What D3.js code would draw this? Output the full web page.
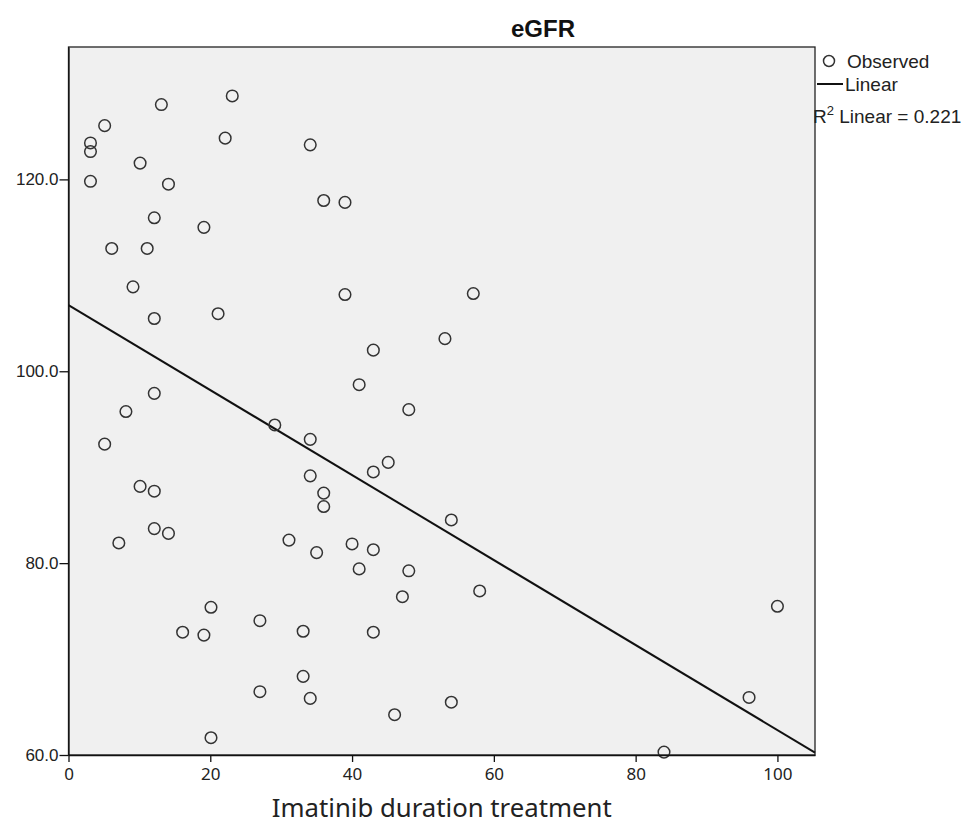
<!DOCTYPE html>
<html><head><meta charset="utf-8">
<script src="https://cdn.jsdelivr.net/npm/d3@7"></script>
<style>body{margin:0;background:#fff;}</style>
</head><body>
<script>
const durationX = [3.1,3.1,3.1,5.1,13.1,23.1,22.1,34.1,10.1,14.1,36.0,39.0,12.1,19.1,6.1,11.1,9.1,39.0,12.1,21.1,43.0,
  41.0,48.0,12.1,8.1,5.1,29.1,34.1,34.1,45.1,43.0,36.0,36.0,10.1,12.1,12.1,14.1,7.1,31.1,35.0,40.0,43.0,41.0,48.0,47.1,
  20.1,27.0,16.1,19.1,33.1,43.0,33.1,27.0,34.1,46.0,20.1,
  57.1,53.1,54.0,58.0,54.0,84.0,96.0,100.0];
const egfrY = [123.8,122.9,119.8,125.6,127.8,128.7,124.3,123.6,121.7,119.5,117.8,117.6,116.0,115.0,112.8,112.8,108.8,108.0,105.5,106.0,102.2,
  98.6,96.0,97.7,95.8,92.4,94.4,92.9,89.1,90.5,89.5,87.3,85.9,88.0,87.5,83.6,83.1,82.1,82.4,81.1,82.0,81.4,79.4,79.2,76.5,
  75.4,74.0,72.8,72.5,72.9,72.8,68.2,66.6,65.9,64.2,61.8,
  108.1,103.4,84.5,77.1,65.5,60.3,66.0,75.5];
const xTicks = [0,20,40,60,80,100];
const yTicks = [60,80,100,120];
const fitIntercept = 106.9;
const fitSlope = -0.443;
const xDomain = [0,105.3];
const yDomain = [60,133.8];
const titleText = "eGFR";
const xTitle = "Imatinib duration treatment";
const legendLabels = ["Observed","Linear"];
const r2Text = "Linear = 0.221";

const W=961,H=824;
const svg=d3.select("body").append("svg").attr("width",W).attr("height",H);
const L=68.5,R=815,T=47,B=755;
const x=d3.scaleLinear().domain(xDomain).range([L,R]);
const y=d3.scaleLinear().domain(yDomain).range([B,T]);
const arial="'Liberation Sans',Arial,sans-serif";
const segoe="'Noto Sans','Open Sans',sans-serif";

svg.append("rect").attr("x",L).attr("y",T).attr("width",R-L).attr("height",B-T)
  .attr("fill","#f0f0f0").attr("stroke","#222").attr("stroke-width",1.3);

const g=svg.append("g");
const lineData=xDomain.map(v=>[v,fitIntercept+fitSlope*v]);
g.append("path").attr("d",d3.line().x(d=>x(d[0])).y(d=>y(d[1]))(lineData))
  .attr("stroke","#111").attr("stroke-width",2).attr("fill","none");

g.selectAll("circle.p").data(durationX.map((v,i)=>[v,egfrY[i]])).enter().append("circle")
  .attr("cx",d=>x(d[0])).attr("cy",d=>y(d[1])).attr("r",5.8)
  .attr("fill","none").attr("stroke","#333").attr("stroke-width",1.5);

const xa=svg.append("g").attr("transform",`translate(0,${B})`)
  .call(d3.axisBottom(x).tickValues(xTicks).tickSize(7).tickSizeOuter(0).tickPadding(6));
xa.select(".domain").attr("stroke","#111").attr("stroke-width",1.3);
xa.selectAll(".tick line").attr("stroke","#111").attr("stroke-width",1.3);
xa.selectAll("text").attr("font-family",segoe).attr("font-size",17).attr("fill","#222");

const ya=svg.append("g").attr("transform",`translate(${L},0)`)
  .call(d3.axisLeft(y).tickValues(yTicks).tickSize(9).tickSizeOuter(0).tickPadding(1).tickFormat(d3.format(".1f")));
ya.select(".domain").attr("stroke","#111").attr("stroke-width",1.3);
ya.selectAll(".tick line").attr("stroke","#111").attr("stroke-width",1.3);
ya.selectAll("text").attr("font-family",arial).attr("font-size",17).attr("fill","#222");

svg.append("text").attr("x",543).attr("y",37).attr("text-anchor","middle")
  .attr("font-family",arial).attr("font-weight","bold").attr("font-size",24)
  .attr("fill","#111").text(titleText);
svg.append("text").attr("x",(L+R)/2).attr("y",817).attr("text-anchor","middle")
  .attr("font-family",segoe).attr("font-size",25)
  .attr("textLength",340).attr("lengthAdjust","spacingAndGlyphs")
  .attr("fill","#222").text(xTitle);

// legend
svg.append("circle").attr("cx",829).attr("cy",61).attr("r",5.5).attr("fill","none").attr("stroke","#333").attr("stroke-width",1.5);
svg.append("text").attr("x",847).attr("y",68).attr("font-family",arial).attr("font-size",19).attr("fill","#222").text(legendLabels[0]);
svg.append("line").attr("x1",817).attr("x2",843).attr("y1",84).attr("y2",84).attr("stroke","#111").attr("stroke-width",2);
svg.append("text").attr("x",845).attr("y",91).attr("font-family",arial).attr("font-size",19).attr("fill","#222").text(legendLabels[1]);
const rt=svg.append("text").attr("x",813).attr("y",123).attr("font-family",arial).attr("font-size",19).attr("fill","#222");
rt.append("tspan").text("R");
rt.append("tspan").attr("dy",-8).attr("font-size",13).text("2");
rt.append("tspan").attr("dy",8).text(" "+r2Text);
</script>
</body></html>
